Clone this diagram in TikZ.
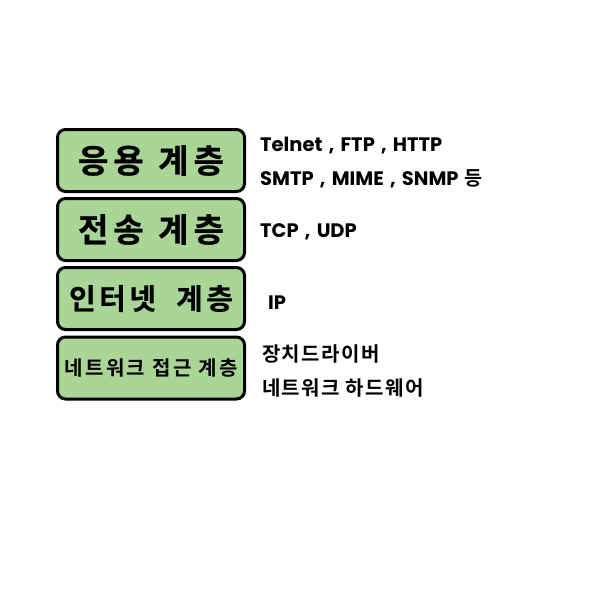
\documentclass[tikz,border=0pt]{standalone}
\usepackage{fontspec}
\newfontfamily\krA{Noto Sans CJK KR}[UprightFont={* Bold}, FakeBold=0.6]
\newfontfamily\krB{Noto Sans CJK KR}[UprightFont={* Bold}, LetterSpace=12, FakeBold=0.4]
\newfontfamily\krC{Noto Sans CJK KR}[UprightFont={* Bold}, LetterSpace=12]
\newfontfamily\krR{Noto Sans CJK KR}[UprightFont={* Bold}, LetterSpace=7]
\newfontfamily\lat{Poppins}[UprightFont={* Bold}, WordSpace=1.5]
\definecolor{layergreen}{RGB}{169,213,150}
\tikzset{
  layer/.style={draw=black, line width=3pt, rounded corners=8pt, fill=layergreen, minimum width=187pt, minimum height=62pt, inner sep=0pt},
  info/.style={anchor=base west, inner sep=0pt, font=\lat\fontsize{19.5}{22}\selectfont},
  infokr/.style={anchor=base west, inner sep=0pt, font=\krR\fontsize{20}{22}\selectfont}
}
\begin{document}
\begin{tikzpicture}[x=1pt,y=-1pt]
\useasboundingbox (0,0) rectangle (600,600);
\node[layer, font=\krA\fontsize{33}{36}\selectfont] (app) at (151,160.5) {응\kern5pt 용\kern7pt{} 계\kern5pt 층};
\node[layer, font=\krA\fontsize{33}{36}\selectfont] (trans) at (151,229.5) {전\kern5pt 송\kern7pt{} 계\kern5pt 층};
\node[layer, font=\krB\fontsize{29}{32}\selectfont] (inet) at (151,298.5) {인터넷\ \ 계층};
\node[layer, font=\krC\fontsize{20}{22}\selectfont] (net) at (151,368) {네트워크 접근 계층};
\node[info] (t1) at (260,151) {Telnet , FTP , HTTP};
\node[info] (t2) at (260,185) {SMTP , MIME , SNMP {\krR 등}};
\node[info] (t3) at (260,237) {TCP , UDP};
\node[info] (t4) at (268,309) {IP};
\node[infokr] (t5) at (262,361) {장치드라이버};
\node[infokr] (t6) at (262,395) {네트워크 하드웨어};
\end{tikzpicture}
\end{document}
